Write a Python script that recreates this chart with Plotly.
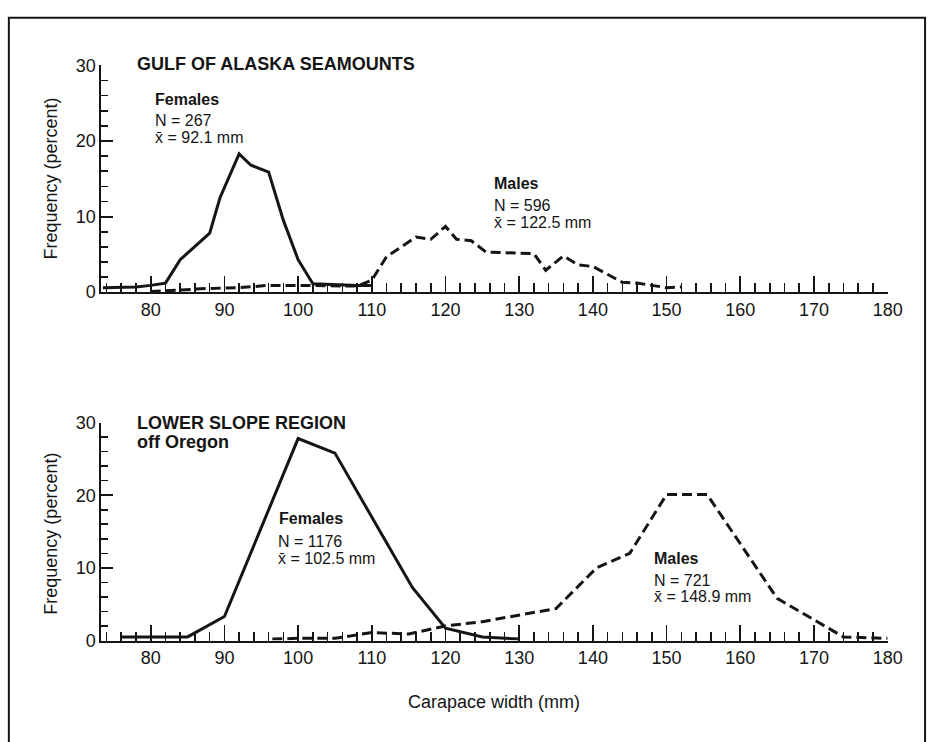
import plotly.graph_objects as go

# ---------------- data ----------------
# Gulf of Alaska seamounts
gulf_fem_x = [73.5, 78, 80, 82, 84, 86, 88, 89.4, 92, 93.6, 96, 98, 100, 102, 104, 106, 108, 110]
gulf_fem_y = [0.6, 0.7, 0.9, 1.2, 4.3, 6.1, 7.8, 12.5, 18.3, 16.8, 15.9, 9.5, 4.3, 1.1, 1.0, 1.0, 0.9, 0.9]

gulf_male_x = [80, 84, 88, 92, 96, 100, 104, 108, 110, 112, 116, 118, 120, 121.5, 123.5, 125.5, 132, 133.6,
               136, 138, 140, 142, 144, 146, 148, 150, 152]
gulf_male_y = [0.1, 0.3, 0.5, 0.6, 0.9, 0.9, 0.9, 0.8, 1.6, 4.7, 7.3, 7.0, 8.7, 7.0, 6.8, 5.3, 5.1, 2.9,
               4.8, 3.6, 3.4, 2.3, 1.3, 1.2, 0.9, 0.6, 0.7]

# Lower slope region off Oregon
oreg_fem_x = [76, 85, 90, 100, 105, 115.5, 120, 125, 130]
oreg_fem_y = [0.5, 0.5, 3.3, 27.8, 25.8, 7.3, 1.7, 0.5, 0.2]

oreg_male_x = [96.5, 100, 105, 110, 115, 120, 125, 135, 140.5, 145, 150, 155.5, 165, 174, 180]
oreg_male_y = [0.2, 0.3, 0.3, 1.1, 0.9, 2.0, 2.6, 4.4, 10.0, 12.0, 20.1, 20.1, 5.8, 0.5, 0.3]

x_range = [73.3, 180]
y_range = [0, 30]
x_label = "Carapace width (mm)"
y_label = "Frequency (percent)"

W, H = 943, 742
INK = "#151515"
FONT = "Liberation Sans, Arial, Helvetica, sans-serif"


def px(x):
    return x / W


def py(y):
    return 1 - y / H


fig = go.Figure()

line_w = 3
fig.add_trace(go.Scatter(x=gulf_fem_x, y=gulf_fem_y, mode="lines",
                         line=dict(color=INK, width=line_w), xaxis="x", yaxis="y", showlegend=False))
fig.add_trace(go.Scatter(x=gulf_male_x, y=gulf_male_y, mode="lines",
                         line=dict(color=INK, width=line_w, dash="10px,5px"), xaxis="x", yaxis="y",
                         showlegend=False))
fig.add_trace(go.Scatter(x=oreg_fem_x, y=oreg_fem_y, mode="lines",
                         line=dict(color=INK, width=line_w), xaxis="x2", yaxis="y2", showlegend=False))
fig.add_trace(go.Scatter(x=oreg_male_x, y=oreg_male_y, mode="lines",
                         line=dict(color=INK, width=line_w, dash="10px,5px"), xaxis="x2", yaxis="y2",
                         showlegend=False))

xdom = [px(103), px(902)]
top_dom = [py(290), py(57)]
bot_dom = [py(648), py(424)]

xaxis_common = dict(range=x_range, domain=xdom, showline=True, linecolor=INK, linewidth=2,
                    ticks="inside", ticklen=16, tickwidth=1.6, tickcolor=INK,
                    tick0=80, dtick=10, showgrid=False, zeroline=False,
                    tickfont=dict(family=FONT, size=18, color=INK),
                    minor=dict(dtick=2, tick0=80, ticks="inside", ticklen=9, tickwidth=1.6,
                               tickcolor=INK, showgrid=False),
                    fixedrange=True)
yaxis_common = dict(range=y_range, showline=True, linecolor=INK, linewidth=2,
                    ticks="inside", ticklen=12, tickwidth=1.8, tickcolor=INK,
                    tick0=0, dtick=10, showgrid=False, zeroline=False,
                    tickfont=dict(family=FONT, size=18, color=INK),
                    minor=dict(dtick=2, tick0=0, ticks="inside", ticklen=7, tickwidth=1.6,
                               tickcolor=INK, showgrid=False),
                    fixedrange=True)

fig.update_layout(
    width=W, height=H,
    margin=dict(l=0, r=0, t=0, b=0),
    paper_bgcolor="white", plot_bgcolor="white",
    xaxis=dict(**xaxis_common, anchor="y"),
    yaxis=dict(**yaxis_common, domain=top_dom, anchor="x"),
    xaxis2=dict(**xaxis_common, anchor="y2"),
    yaxis2=dict(**yaxis_common, domain=bot_dom, anchor="x2"),
    showlegend=False,
    hovermode=False,
)

ann = []


def add_text(text, x, y, size, bold=False, xanchor="left", angle=0):
    ann.append(dict(text=("<b>%s</b>" % text) if bold else text, x=px(x), y=py(y),
                    xref="paper", yref="paper", xanchor=xanchor, yanchor="middle",
                    showarrow=False, textangle=angle,
                    font=dict(family=FONT, size=size, color=INK)))


XBAR = "x\u0304"
# top panel
add_text("GULF OF ALASKA SEAMOUNTS", 137, 56, 18, bold=True)
add_text("Females", 155, 92, 16, bold=True)
add_text("N = 267", 155, 114, 16)
add_text(XBAR + " = 92.1 mm", 155, 131, 16)
add_text("Males", 500, 178, 16, bold=True)
add_text("N = 596", 500, 201, 16)
add_text(XBAR + " = 122.5 mm", 500, 218, 16)
add_text(y_label, 52, 173, 18, xanchor="center", angle=-90)
# bottom panel
add_text("LOWER SLOPE REGION", 137, 424, 18, bold=True)
add_text("off Oregon", 137, 444, 18, bold=True)
add_text("Females", 281, 523, 16, bold=True)
add_text("N = 1176", 280, 546, 16)
add_text(XBAR + " = 102.5 mm", 280, 564, 16)
add_text("Males", 663, 564, 16, bold=True)
add_text("N = 721", 663, 586, 16)
add_text(XBAR + " = 148.9 mm", 663, 603, 16)
add_text(y_label, 52, 538, 18, xanchor="center", angle=-90)
add_text(x_label, 502, 711, 18, xanchor="center")

fig.update_layout(annotations=ann)

# frame around the figure
fig.add_shape(type="rect", xref="paper", yref="paper",
              x0=px(9), x1=px(940), y0=py(800), y1=py(8),
              line=dict(color=INK, width=2), fillcolor="rgba(0,0,0,0)")

fig.write_html(
    "out.html",
    config={"displayModeBar": False, "staticPlot": True},
    post_script="document.body.style.margin='0';document.body.style.overflow='hidden';",
)
